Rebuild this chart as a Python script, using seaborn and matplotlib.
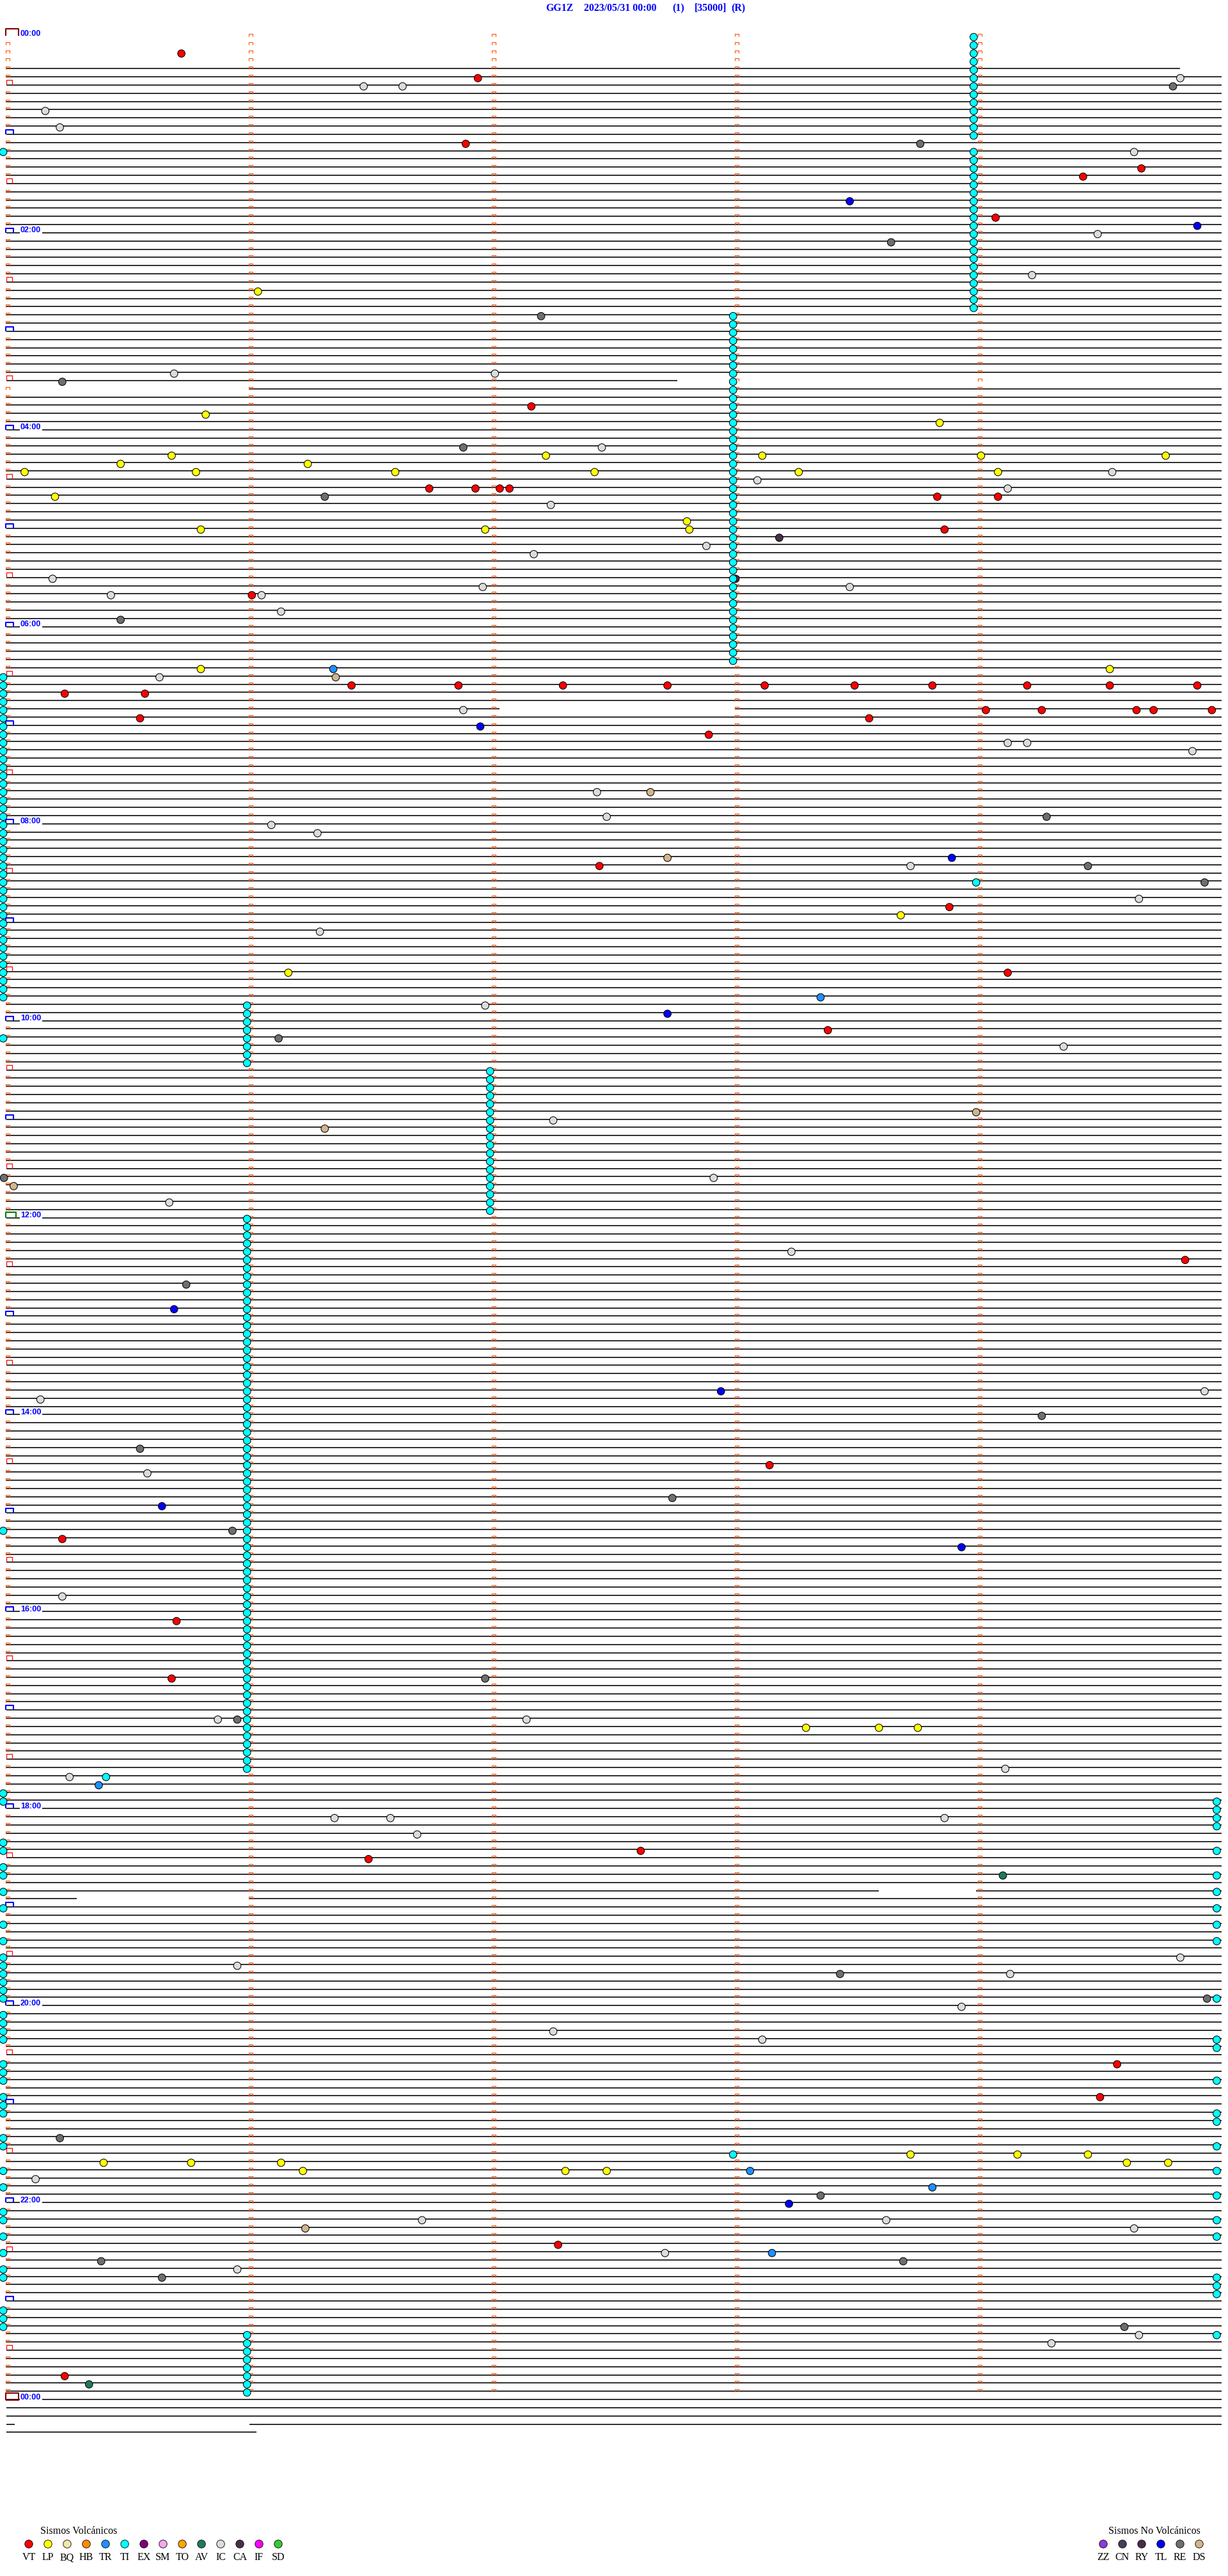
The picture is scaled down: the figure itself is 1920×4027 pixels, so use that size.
import numpy as np
import pandas as pd
import matplotlib
matplotlib.use("Agg")
import matplotlib.pyplot as plt
from matplotlib.path import Path
import seaborn as sns

# --- page geometry (pixels) ---
W, H = 1920, 4027
X0, XPM = 10, 380      # pixel of minute 0 and pixels per minute
Y0, YPR = 56, 12.83    # pixel of the row-0 trace and pixels per row (5 min)
N_ROWS = 288           # 24 h of 5-minute rows

# --- event colours ---
type_colors = {
    "VT": "#ff0000", "LP": "#ffff00", "BQ": "#eee8aa", "HB": "#ff8c00",
    "TR": "#1e90ff", "TI": "#00ffff", "EX": "#800080", "SM": "#eeaaee",
    "TO": "#ffa500", "AV": "#1e7b5e", "IC": "#dcdcdc", "CA": "#48304a",
    "IF": "#ff00ff", "SD": "#32cd32",
    "ZZ": "#8e3ad6", "CN": "#4a3d5c", "RY": "#4a2c4a", "TL": "#0000ff",
    "RE": "#6e6e6e", "DS": "#d2b48c",
}
volc_types = ["VT", "LP", "BQ", "HB", "TR", "TI", "EX", "SM", "TO", "AV", "IC", "CA", "IF", "SD"]
novolc_types = ["ZZ", "CN", "RY", "TL", "RE", "DS"]

# --- events: row (5-min line) and minute inside the row ---
vt_row = [2, 5, 13, 16, 17, 22, 45, 55, 55, 55, 55, 56, 56, 60, 68, 79, 79, 79, 79, 79, 79, 79, 79, 79, 79,
          80, 80, 82, 82, 82, 82, 82, 83, 83, 85, 101, 106, 114, 121, 149, 174, 183, 193, 200, 221, 222,
          247, 251, 269, 285]
vt_min = [0.72, 1.94, 1.89, 4.67, 4.43, 4.07, 2.16, 1.74, 1.93, 2.03, 2.07, 3.83, 4.08, 3.86, 1.01,
          1.42, 1.86, 2.29, 2.72, 3.12, 3.49, 3.81, 4.20, 4.54, 4.90, 0.24, 0.57, 4.03, 4.26, 4.65, 4.72,
          4.96, 0.55, 3.55, 2.89, 2.44, 3.88, 4.12, 3.38, 4.85, 3.14, 0.23, 0.70, 0.68, 2.61, 1.49,
          4.57, 4.50, 2.27, 0.24]

lp_row = [31, 46, 47, 51, 51, 51, 51, 51, 52, 52, 53, 53, 53, 53, 53, 53, 56, 59, 60, 60, 60, 77, 77,
          107, 114, 206, 206, 206, 258, 258, 258, 259, 259, 259, 259, 259, 260, 260, 260]
lp_min = [1.035, 0.82, 3.84, 0.68, 2.22, 3.11, 4.01, 4.77, 0.47, 1.24, 0.075, 0.78, 1.60, 2.42, 3.26,
          4.08, 0.20, 2.80, 0.80, 1.97, 2.81, 0.80, 4.54, 3.68, 1.16, 3.29, 3.59, 3.75, 3.72, 4.16,
          4.45, 0.40, 0.76, 1.13, 4.61, 4.78, 1.22, 2.30, 2.47]

ic_row = [5, 6, 6, 9, 11, 14, 24, 29, 41, 41, 50, 53, 54, 55, 57, 62, 63, 66, 67, 67, 68, 68, 70, 78,
          82, 86, 86, 87, 92, 95, 96, 97, 101, 105, 109, 118, 123, 132, 139, 142, 148, 165, 166, 175,
          190, 205, 205, 211, 212, 217, 217, 217, 219, 234, 235, 236, 240, 243, 244, 261, 266, 266,
          267, 270, 272, 280, 281]
ic_min = [4.83, 1.47, 1.63, 0.16, 0.22, 4.64, 4.49, 4.22, 0.69, 2.01, 2.45, 4.55, 3.09, 4.12, 2.24,
          2.88, 2.17, 0.19, 1.96, 3.47, 0.43, 1.05, 1.13, 0.63, 1.88, 4.12, 4.20, 4.88, 2.43, 2.47,
          1.09, 1.28, 3.72, 4.66, 1.29, 1.97, 4.35, 2.25, 2.91, 0.67, 3.23, 4.93, 0.14, 0.58, 0.23,
          0.87, 2.14, 4.11, 0.26, 1.35, 1.58, 3.86, 1.69, 4.83, 0.95, 4.13, 3.93, 2.25, 3.11, 0.12,
          1.71, 3.62, 4.64, 2.71, 0.95, 4.66, 4.30]

re_row = [6, 13, 25, 34, 42, 50, 56, 71, 95, 101, 103, 122, 139, 152, 168, 172, 178, 182, 200, 205,
          236, 239, 256, 263, 271, 271, 273, 279]
re_min = [4.80, 3.76, 3.64, 2.20, 0.23, 1.88, 1.31, 0.47, 4.28, 4.45, 4.93, 1.12, -0.01, 0.74, 4.26,
          0.55, 2.74, 0.93, 1.97, 0.95, 3.43, 4.94, 0.22, 3.35, 0.39, 3.69, 0.64, 4.60]

tl_row = [20, 23, 84, 100, 119, 155, 165, 179, 184, 264]
tl_min = [3.47, 4.90, 1.95, 3.89, 2.72, 0.69, 2.94, 0.64, 3.93, 3.22]

tr_row = [77, 117, 213, 260, 262, 270]
tr_min = [1.345, 3.35, 0.38, 3.06, 3.81, 3.15]

ds_row = [78, 92, 100, 131, 133, 140, 267]
ds_min = [1.355, 2.65, 2.72, 3.99, 1.31, 0.03, 1.23]

av_row = [224, 286]
av_min = [4.10, 0.34]

ca_row = [61, 66]
ca_min = [3.18, 3.00]

# tremor (TI) marks: single ones and the long chains, one per row
ti_single_row = [14, 103, 122, 182, 212, 258]
ti_single_min = [-0.013, 3.99, -0.013, -0.013, 0.41, 2.99]
ti_chain_a = [0, 1, 2, 3, 4, 5, 6, 7, 8, 9, 10, 11, 12, 14, 15, 16, 17, 18, 19, 20, 21, 22, 23, 24,
              25, 26, 27, 28, 29, 30, 31, 32, 33]
ti_chain_b = [34, 35, 36, 37, 38, 39, 40, 41, 42, 43, 44, 45, 46, 47, 48, 49, 50, 51, 52, 53, 54, 55,
              56, 57, 58, 59, 60, 61, 62, 63, 64, 65, 66, 67, 68, 69, 70, 71, 72, 73, 74, 75, 76]
ti_chain_c = [78, 79, 80, 81, 82, 83, 84, 85, 86, 87, 88, 89, 90, 91, 92, 93, 94, 95, 96, 97, 98, 99,
              100, 101, 102, 103, 104, 105, 106, 107, 108, 109, 110, 111, 112, 113, 114, 115, 116, 117]
ti_chain_d = [118, 119, 120, 121, 122, 123, 124, 125]
ti_chain_e = [126, 127, 128, 129, 130, 131, 132, 133, 134, 135, 136, 137, 138, 139, 140, 141, 142, 143]
ti_chain_f = [144, 145, 146, 147, 148, 149, 150, 151, 152, 153, 154, 155, 156, 157, 158, 159, 160, 161,
              162, 163, 164, 165, 166, 167, 168, 169, 170, 171, 172, 173, 174, 175, 176, 177, 178, 179,
              180, 181, 182, 183, 184, 185, 186, 187, 188, 189, 190, 191, 192, 193, 194, 195, 196, 197,
              198, 199, 200, 201, 202, 203, 204, 205, 206, 207, 208, 209, 210, 211]
ti_chain_g = [280, 281, 282, 283, 284, 285, 286, 287]
ti_left_edge = [214, 215, 220, 221, 223, 224, 226, 228, 230, 232, 234, 235, 236, 237, 238, 239, 241,
                242, 243, 244, 247, 248, 249, 251, 252, 253, 256, 257, 260, 262, 265, 266, 268, 270,
                272, 273, 277, 278, 279]
ti_right_edge = [215, 216, 217, 218, 221, 224, 226, 228, 230, 232, 239, 244, 245, 249, 253, 254, 257,
                 260, 263, 266, 268, 273, 274, 275, 280]
ti_chain_min = {"a": 3.98, "b": 2.99, "c": -0.013, "d": 0.99, "e": 1.99, "f": 0.99, "g": 0.99,
                "left": -0.013, "right": 4.98}

# --- trace coverage ---
first_trace_row, last_trace_row = 4, 292
partial_traces = {
    4: [(0, 4.83)],
    42: [(0, 2.76)],
    43: [(1.0, 5)],
    82: [(0, 2.03), (3.0, 5)],
    226: [(0, 3.59), (3.99, 5)],
    227: [(0, 0.29), (1.0, 5)],
    291: [(0, 0.035), (1.0, 5)],
    292: [(0, 1.03)],
}

title_parts = ["GG1Z", "2023/05/31 00:00", "(1)", "[35000]", "(R)"]


def bracket(x0, x1, y0, y1, closed=False):
    # open "⊓" marker, vertices in pixels relative to the point
    v = [(x0, y0), (x0, y1), (x1, y1), (x1, y0)]
    if closed:
        v.append((x0, y0))
    m = np.abs(np.array(v, dtype=float)).max()
    return Path(v), 2 * m * 0.72


def build_events():
    parts = []
    for t, rows, mins in [("VT", vt_row, vt_min), ("LP", lp_row, lp_min), ("IC", ic_row, ic_min),
                          ("RE", re_row, re_min), ("TL", tl_row, tl_min), ("TR", tr_row, tr_min),
                          ("DS", ds_row, ds_min), ("AV", av_row, av_min), ("CA", ca_row, ca_min),
                          ("TI", ti_single_row, ti_single_min)]:
        parts.append(pd.DataFrame({"row": rows, "minute": mins, "type": t}))
    chains = {"a": ti_chain_a, "b": ti_chain_b, "c": ti_chain_c, "d": ti_chain_d, "e": ti_chain_e,
              "f": ti_chain_f, "g": ti_chain_g, "left": ti_left_edge, "right": ti_right_edge}
    for k, rows in chains.items():
        parts.append(pd.DataFrame({"row": rows, "minute": ti_chain_min[k], "type": "TI"}))
    ev = pd.concat(parts, ignore_index=True)
    ev["y"] = ev["row"] + 2 / YPR   # circles sit ~2 px under the trace
    return ev


def main():
    sns.set_style("white")
    plt.rcParams["font.family"] = ["Liberation Serif", "DejaVu Serif"]

    fig = plt.figure(figsize=(W / 100, H / 100), dpi=100)
    ax = fig.add_axes([0, 0, 1, 1])
    ax.axis("off")

    # traces
    ys, xa, xb = [], [], []
    for r in range(first_trace_row, last_trace_row + 1):
        for a, b in partial_traces.get(r, [(0, 5)]):
            ys.append(r)
            xa.append(a)
            xb.append(b)
    ax.hlines(ys, xa, xb, color="black", lw=1.15, zorder=1)

    # minute ticks
    tick_path, tick_ms = bracket(-1, 5, -1.5, 3.5)
    tr, tm = [], []
    for r in range(N_ROWS):
        for m in range(5):
            if m == 0 and r % 6 == 0:
                continue
            tr.append(r)
            tm.append(m)
    ax.plot(tm, tr, ls="none", marker=tick_path, markersize=tick_ms, mfc="none",
            mec="#ff5000", mew=0.8, zorder=3)

    # hour / half-hour brackets
    half_rows = [r for r in range(N_ROWS) if r % 12 == 6]
    hour_rows = [r for r in range(N_ROWS) if r % 12 == 0 and r not in (0, 144)]
    p, ms = bracket(0, 9, 0, 8)
    ax.plot([0] * len(half_rows), half_rows, ls="none", marker=p, markersize=ms, mfc="none",
            mec="#ff0000", mew=0.9, zorder=3)
    p, ms = bracket(-1, 11, 0, 7)
    ax.plot([0] * len(hour_rows), hour_rows, ls="none", marker=p, markersize=ms, mfc="none",
            mec="#0000ff", mew=1.5, zorder=3)
    p, ms = bracket(-1, 15, 0, 9)
    ax.plot([0], [144], ls="none", marker=p, markersize=ms, mfc="none", mec="#008000", mew=1.5, zorder=3)
    p, ms = bracket(-1, 19, 0, 11)
    ax.plot([0], [0], ls="none", marker=p, markersize=ms, mfc="none", mec="#800000", mew=1.5, zorder=3)
    p, ms = bracket(-1, 19, -1, 10, closed=True)
    ax.plot([0], [N_ROWS], ls="none", marker=p, markersize=ms, mfc="none", mec="#800000", mew=1.5, zorder=3)

    # time labels every two hours
    for r in range(0, N_ROWS + 1, 24):
        ax.annotate(f"{(r // 12) % 24:02d}:00", xy=(0, r), xytext=(22, 3.5), textcoords="offset pixels",
                    ha="left", va="center", color="#0000ff", fontsize=9, fontweight="bold",
                    family=["Liberation Sans", "DejaVu Sans"], zorder=2,
                    bbox=dict(boxstyle="square,pad=0.12", fc="white", ec="none"))

    # events
    ev = build_events()
    sns.scatterplot(data=ev, x="minute", y="y", hue="type", palette=type_colors, s=70,
                    edgecolor="black", linewidth=0.75, legend=False, ax=ax, zorder=4)

    ax.set_xlim(-X0 / XPM, (W - X0) / XPM)
    ax.set_ylim((H - Y0) / YPR, -Y0 / YPR)
    ax.axis("off")

    # overlay in pixel coordinates: title and legends
    lax = fig.add_axes([0, 0, 1, 1])
    lax.patch.set_alpha(0)
    title_x = [853, 913, 1051, 1086, 1143]
    for txt, x in zip(title_parts, title_x):
        lax.text(x, 13, txt, ha="left", va="center", color="#0000ff", fontsize=11.4, fontweight="bold")

    leg = pd.concat([
        pd.DataFrame({"x": [45 + 30 * i for i in range(len(volc_types))], "type": volc_types}),
        pd.DataFrame({"x": [1725 + 30 * i for i in range(len(novolc_types))], "type": novolc_types}),
    ], ignore_index=True)
    leg["y"] = 3977
    sns.scatterplot(data=leg, x="x", y="y", hue="type", palette=type_colors, s=80,
                    edgecolor="black", linewidth=0.6, legend=False, ax=lax)
    for x, t in zip(leg["x"], leg["type"]):
        lax.text(x, 3998, t, ha="center", va="center", fontsize=11.5, color="black")
    lax.text(63, 3957, "Sismos Volcánicos", ha="left", va="center", fontsize=11.5, color="black")
    lax.text(1733, 3957, "Sismos No Volcánicos", ha="left", va="center", fontsize=11.5, color="black")

    lax.set_xlim(0, W)
    lax.set_ylim(H, 0)
    lax.axis("off")

    fig.savefig("out.png", dpi=100)


if __name__ == "__main__":
    main()
